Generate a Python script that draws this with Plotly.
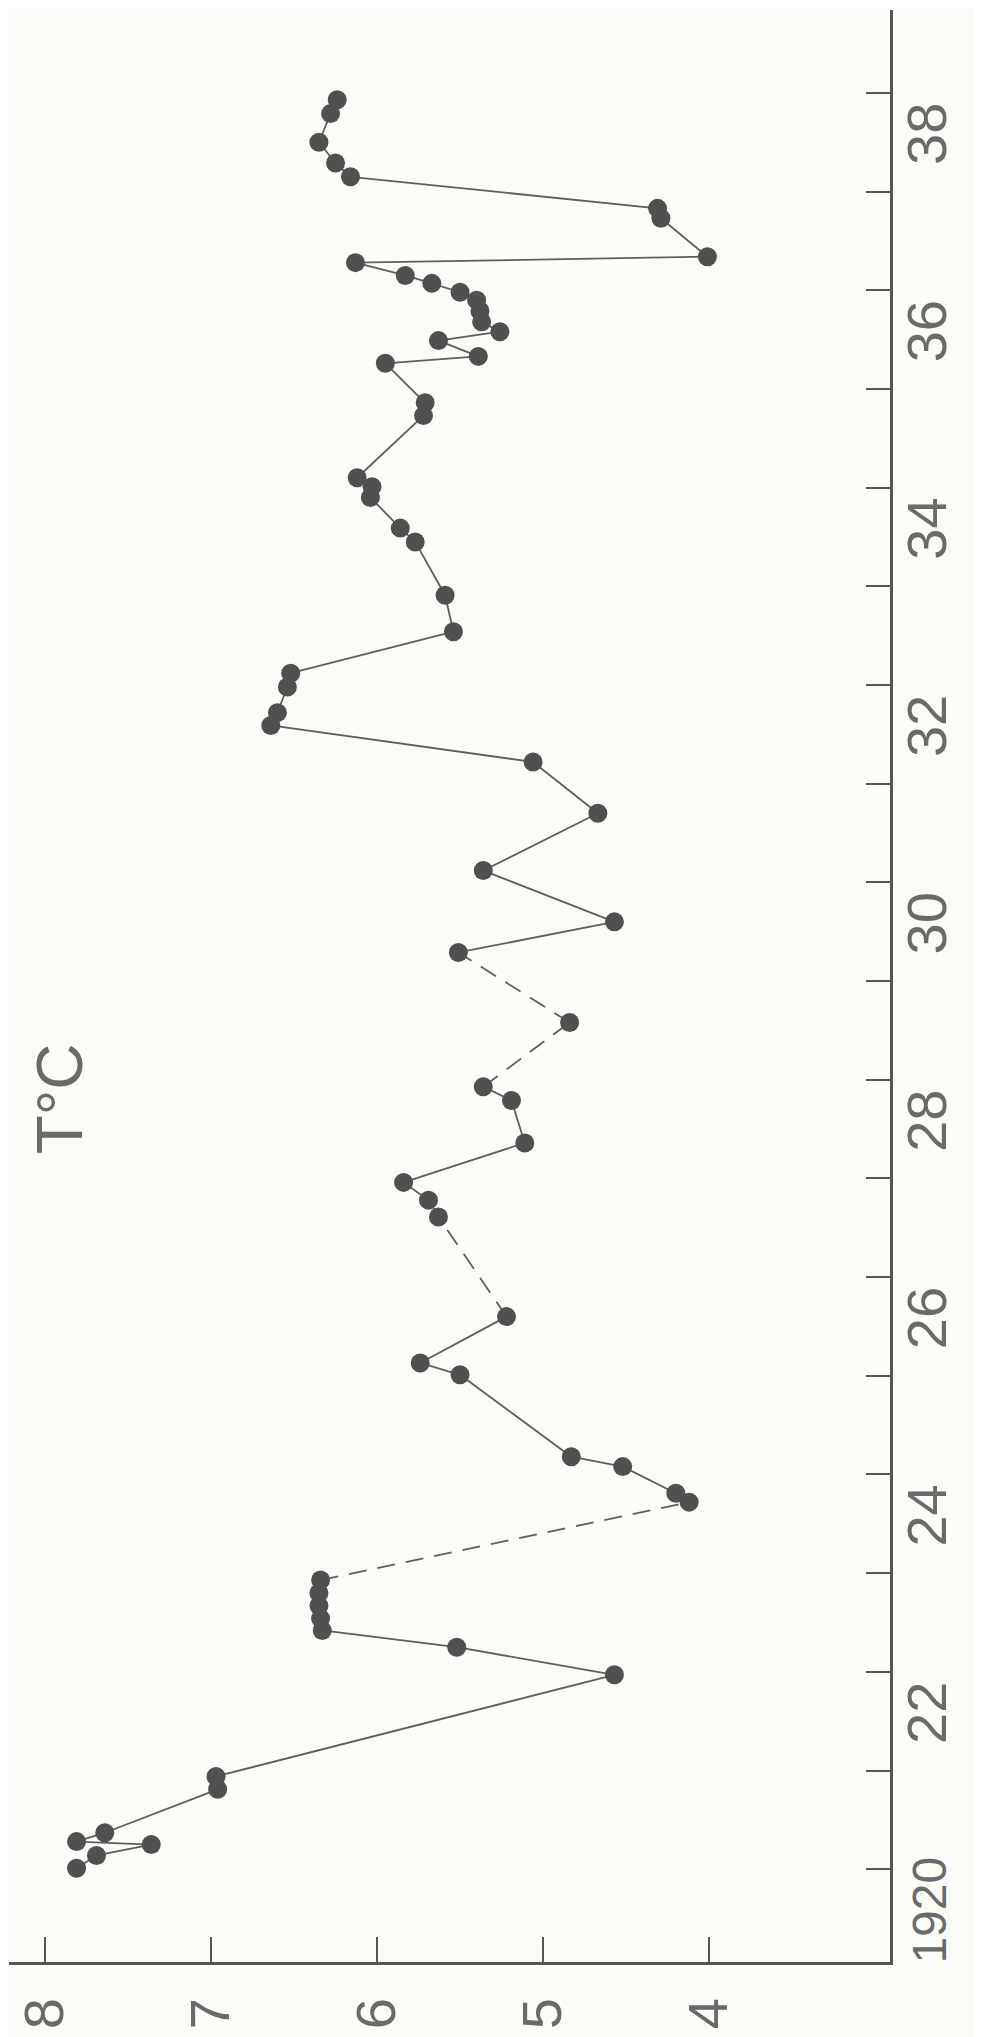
import plotly.graph_objects as go

# ---- data (time runs upward on the vertical axis, temperature on the horizontal axis) ----
years = [
    1921.01, 1921.14, 1921.25, 1921.28, 1921.37, 1921.81, 1921.94,
    1922.97, 1923.25, 1923.42, 1923.54, 1923.67, 1923.80, 1923.93,
    1924.72, 1924.81, 1925.08, 1925.18, 1926.01, 1926.13, 1926.60,
    1927.61, 1927.78, 1927.96, 1928.36, 1928.79, 1928.93, 1929.58,
    1930.29, 1930.60, 1931.12, 1931.70, 1932.22, 1932.59, 1932.72,
    1932.98, 1933.12, 1933.54, 1933.91, 1934.45, 1934.59, 1934.90,
    1935.01, 1935.10, 1935.73, 1935.86, 1936.26, 1936.33, 1936.49,
    1936.58, 1936.68, 1936.79, 1936.90, 1936.98, 1937.07, 1937.15,
    1937.28, 1937.34, 1937.73, 1937.83, 1938.15, 1938.29, 1938.50,
    1938.79, 1938.93,
]
temps = [
    7.81, 7.69, 7.36, 7.81, 7.64, 6.96, 6.97,
    4.57, 5.52, 6.33, 6.34, 6.35, 6.35, 6.34,
    4.12, 4.20, 4.52, 4.83, 5.50, 5.74, 5.22,
    5.63, 5.69, 5.84, 5.11, 5.19, 5.36, 4.84,
    5.51, 4.57, 5.36, 4.67, 5.06, 6.64, 6.60,
    6.54, 6.52, 5.54, 5.59, 5.77, 5.86, 6.04,
    6.03, 6.12, 5.72, 5.71, 5.95, 5.39, 5.63,
    5.26, 5.37, 5.38, 5.40, 5.50, 5.67, 5.83,
    6.13, 4.01, 4.29, 4.31, 6.16, 6.25, 6.35,
    6.28, 6.24,
]
# segments (index of starting point) drawn as dashed lines (gaps in the record)
dashed_segments = [13, 20, 26, 27]

temp_ticks = [8, 7, 6, 5, 4]
year_boundaries = list(range(1921, 1940))
year_label_pos = [1920.5 + 2 * i for i in range(10)]
year_label_text = ["<span style='font-size:48px'>1920</span>", "22", "24", "26",
                   "28", "30", "32", "34", "36", "38"]

INK = "#555555"
LINE = "#5e5e5e"
TXT = "#6a6a6a"
BG = "#fbfbf8"
NUM_FONT = "Liberation Sans Narrow, Liberation Sans, Arial, sans-serif"

# ---- split the polyline into solid and dashed pieces ----
sx, sy, dx, dy = [], [], [], []
for i in range(len(years) - 1):
    if i in dashed_segments:
        dx += [temps[i], temps[i + 1], None]
        dy += [years[i], years[i + 1], None]
    else:
        sx += [temps[i], temps[i + 1], None]
        sy += [years[i], years[i + 1], None]

fig = go.Figure()
fig.add_trace(go.Scatter(x=sx, y=sy, mode="lines",
                         line=dict(color=LINE, width=1.8), hoverinfo="skip"))
fig.add_trace(go.Scatter(x=dx, y=dy, mode="lines",
                         line=dict(color=LINE, width=1.8, dash="18px,11px"),
                         hoverinfo="skip"))
fig.add_trace(go.Scatter(x=temps, y=years, mode="markers",
                         marker=dict(size=19, color="#505050",
                                     line=dict(width=0))))

fig.update_layout(
    width=974, height=2029,
    margin=dict(l=1, r=92, t=2, b=75, autoexpand=False),
    paper_bgcolor=BG, plot_bgcolor=BG,
    showlegend=False,
    xaxis=dict(
        range=[8.217, 2.91], tickmode="array", tickvals=temp_ticks,
        ticktext=[str(t) for t in temp_ticks],
        ticks="inside", ticklen=25, tickwidth=2, tickcolor=INK,
        showline=True, linecolor=INK, linewidth=2.5,
        showgrid=False, zeroline=False, automargin=False,
        tickangle=-90, ticklabelstandoff=11,
        tickfont=dict(family=NUM_FONT, size=56, color=TXT),
    ),
    yaxis=dict(
        range=[1920.06, 1939.84], side="right",
        tickmode="array", tickvals=year_label_pos, ticktext=year_label_text,
        ticks="", showline=True, linecolor=INK, linewidth=2.5,
        showgrid=False, zeroline=False, automargin=False,
        tickangle=-90, ticklabelstandoff=-14,
        tickfont=dict(family=NUM_FONT, size=56, color=TXT),
        minor=dict(tickmode="array", tickvals=year_boundaries,
                   ticks="inside", ticklen=24, tickwidth=2, tickcolor=INK,
                   showgrid=False),
    ),
    annotations=[dict(
        text="T°C", xref="paper", yref="paper", x=0.058, y=0.442,
        xanchor="center", yanchor="middle",
        showarrow=False, textangle=-90,
        font=dict(family="Liberation Sans, Arial, sans-serif", size=64, color=TXT),
    )],
)

fig.write_html("out.html")
